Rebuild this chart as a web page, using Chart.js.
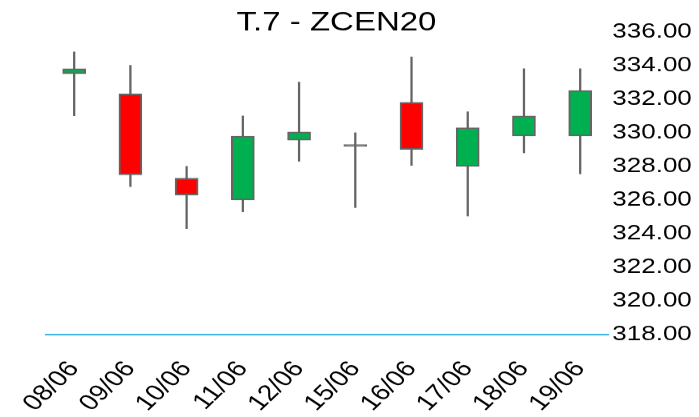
<!DOCTYPE html>
<html>
<head>
<meta charset="utf-8">
<script src="https://cdn.jsdelivr.net/npm/chart.js@4/dist/chart.umd.min.js"></script>
<style>
  html, body { margin: 0; padding: 0; background: #ffffff; overflow: hidden; }
  #c { display: block; width: 699px; height: 417px; }
</style>
</head>
<body>
<canvas id="c" width="699" height="521" style="width:699px;height:417px;display:block"></canvas>
<script>
// ---- data ----
const labels = ['08/06', '09/06', '10/06', '11/06', '12/06', '15/06', '16/06', '17/06', '18/06', '19/06'];
const openVals  = [333.5, 332.3, 327.3, 326.0, 329.55, 329.2, 331.8, 328.0, 329.8, 329.8];
const highVals  = [334.8, 334.0, 328.0, 331.0, 333.0, 330.0, 334.5, 331.25, 333.8, 333.8];
const lowVals   = [331.0, 326.8, 324.3, 325.3, 328.3, 325.55, 328.05, 325.05, 328.8, 327.55];
const closeVals = [333.8, 327.5, 326.3, 329.8, 330.05, 329.3, 329.0, 330.3, 331.0, 332.5];
const yTicks = { min: 318, max: 336, step: 2 };
const titleText = 'T.7 - ZCEN20';

const UP = '#00b050', DOWN = '#ff0000', EDGE = '#646464';
const FONT = "'Liberation Sans', Arial, Helvetica, sans-serif";

const bodies = labels.map((_, i) => [openVals[i], closeVals[i]]);
const wicks = labels.map((_, i) => [lowVals[i], highVals[i]]);

// centre the title box where the reference puts it
const titleShift = {
  id: 'titleShift',
  afterLayout(chart) {
    const t = chart.titleBlock;
    if (t) { t.left = 0; t.right = 673; t.width = 673; }
  }
};

new Chart(document.getElementById('c'), {
  type: 'bar',
  plugins: [titleShift],
  data: {
    labels: labels,
    datasets: [
      {
        label: 'body',
        data: bodies,
        grouped: false,
        order: 0,
        barThickness: 23,
        borderWidth: 2,
        borderSkipped: false,
        borderColor: EDGE,
        backgroundColor: ctx => closeVals[ctx.dataIndex] >= openVals[ctx.dataIndex] ? UP : DOWN
      },
      {
        label: 'wick',
        data: wicks,
        grouped: false,
        order: 1,
        barThickness: 1.6,
        borderWidth: 0,
        backgroundColor: EDGE
      }
    ]
  },
  options: {
    responsive: false,
    devicePixelRatio: 1,
    animation: false,
    events: [],
    layout: { padding: { top: 0, left: 42.7, right: 0, bottom: 0 } },
    plugins: {
      legend: { display: false },
      tooltip: { enabled: false },
      title: {
        display: true,
        text: titleText,
        color: '#000000',
        font: { family: FONT, size: 33, weight: 'normal', lineHeight: 1 },
        padding: { top: 12, bottom: -5.4 }
      }
    },
    scales: {
      x: {
        type: 'category',
        offset: true,
        grid: { display: false, drawTicks: false },
        border: { display: true, color: '#3bb4e6', width: 2 },
        ticks: {
          color: '#000000',
          font: { family: FONT, size: 28 },
          minRotation: 50,
          maxRotation: 50,
          autoSkip: false,
          padding: 27
        },
        afterFit: s => { s.height = 102.9; }
      },
      y: {
        position: 'right',
        min: yTicks.min,
        max: yTicks.max,
        grid: { display: false, drawTicks: false },
        border: { display: false },
        ticks: {
          stepSize: yTicks.step,
          color: '#000000',
          font: { family: FONT, size: 26 },
          padding: 4,
          callback: v => Number(v).toFixed(2)
        },
        afterFit: s => { s.width = 90.7; }
      }
    }
  }
});
</script>
</body>
</html>
